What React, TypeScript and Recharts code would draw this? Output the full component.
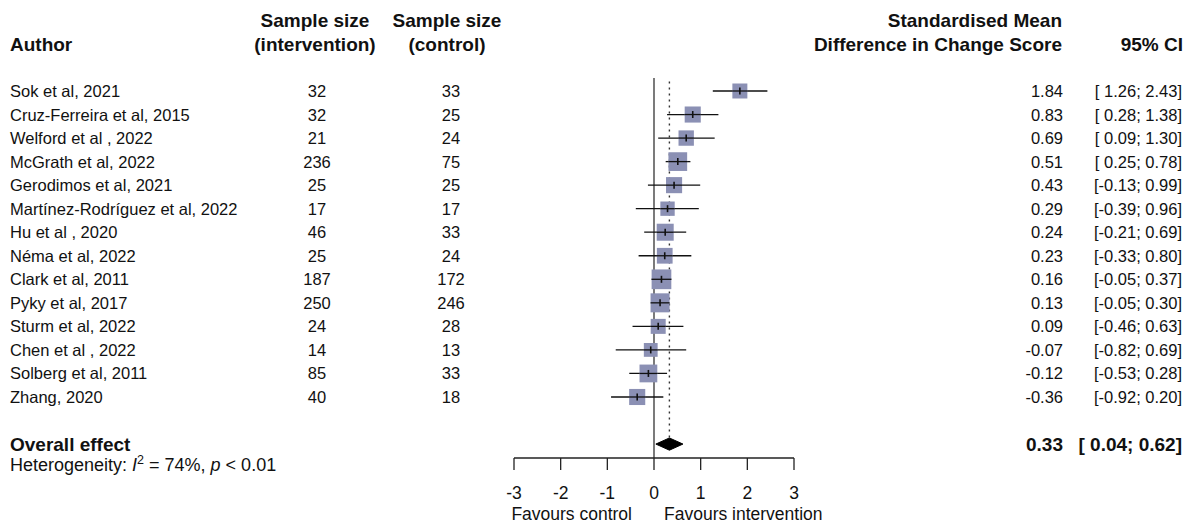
import React from 'react';
import { ComposedChart, XAxis, YAxis, Scatter, ErrorBar, ReferenceLine, Area } from 'recharts';

const authors = [
  'Sok et al, 2021',
  'Cruz-Ferreira et al, 2015',
  'Welford et al , 2022',
  'McGrath et al, 2022',
  'Gerodimos et al, 2021',
  'Martínez-Rodríguez et al, 2022',
  'Hu et al , 2020',
  'Néma et al, 2022',
  'Clark et al, 2011',
  'Pyky et al, 2017',
  'Sturm et al, 2022',
  'Chen et al , 2022',
  'Solberg et al, 2011',
  'Zhang, 2020',
];
const nIntervention = [32, 32, 21, 236, 25, 17, 46, 25, 187, 250, 24, 14, 85, 40];
const nControl = [33, 25, 24, 75, 25, 17, 33, 24, 172, 246, 28, 13, 33, 18];
const smd = [1.84, 0.83, 0.69, 0.51, 0.43, 0.29, 0.24, 0.23, 0.16, 0.13, 0.09, -0.07, -0.12, -0.36];
const ciLow = [1.26, 0.28, 0.09, 0.25, -0.13, -0.39, -0.21, -0.33, -0.05, -0.05, -0.46, -0.82, -0.53, -0.92];
const ciHigh = [2.43, 1.38, 1.3, 0.78, 0.99, 0.96, 0.69, 0.8, 0.37, 0.3, 0.63, 0.69, 0.28, 0.2];
const weights = [5.9, 6.8, 6.2, 9.2, 6.8, 5.4, 7.6, 6.5, 10.2, 9.5, 5.9, 5.0, 8.3, 6.8];
const overallEst = 0.33;
const overallLow = 0.04;
const overallHigh = 0.62;
const xTicks = [-3, -2, -1, 0, 1, 2, 3];

const FONT = '"Liberation Sans", Arial, Helvetica, sans-serif';
const TXT = '#111';
const OVERALL_ROW = authors.length + 2;
const BODY_FS = 16.5;

const fmt = (v: number) => (v < 0 ? v.toFixed(2) : ' ' + v.toFixed(2));
const ciText = (lo: number, hi: number) => `[${fmt(lo)}; ${fmt(hi)}]`;
const squareSize = (w: number) => 6.17 * Math.sqrt(w);

const studyRows = authors.map((a, i) => ({
  x: smd[i],
  y: i + 1,
  err: [smd[i] - ciLow[i], ciHigh[i] - smd[i]],
  w: weights[i],
}));

const textRows = [
  ...authors.map((a, i) => ({
    x: 0,
    y: i + 1,
    author: a,
    nI: String(nIntervention[i]),
    nC: String(nControl[i]),
    est: smd[i].toFixed(2),
    ci: ciText(ciLow[i], ciHigh[i]),
    overall: false,
  })),
  {
    x: 0,
    y: OVERALL_ROW,
    author: 'Overall effect',
    nI: '',
    nC: '',
    est: overallEst.toFixed(2),
    ci: ciText(overallLow, overallHigh),
    overall: true,
  },
];

const DIAMOND_H = 0.26;
const diamond = [
  { x: overallLow, band: [OVERALL_ROW, OVERALL_ROW] },
  { x: overallEst, band: [OVERALL_ROW - DIAMOND_H, OVERALL_ROW + DIAMOND_H] },
  { x: overallHigh, band: [OVERALL_ROW, OVERALL_ROW] },
];

const SquareShape = (props: any) => {
  const { cx, cy, payload } = props;
  const s = squareSize(payload.w);
  return <rect x={cx - s / 2} y={cy - s / 2} width={s} height={s} fill="#8b90b4" />;
};

const TickShape = (props: any) => {
  const { cx, cy, payload } = props;
  const s = squareSize(payload.w);
  return (
    <g>
      <line x1={cx - s / 2} x2={cx + s / 2} y1={cy} y2={cy} stroke="#111" strokeWidth={1.3} />
      <line x1={cx} x2={cx} y1={cy - 3.5} y2={cy + 3.5} stroke="#111" strokeWidth={1.6} />
    </g>
  );
};

const RowText = (props: any) => {
  const { cy, payload } = props;
  if (payload.overall) {
    const b = cy + 7;
    return (
      <g fontFamily={FONT} fill={TXT} style={{ whiteSpace: 'pre' }}>
        <text x={10} y={b} fontSize={19} fontWeight="bold">{payload.author}</text>
        <text x={10} y={cy + 27} fontSize={18}>
          {'Heterogeneity: '}
          <tspan fontStyle="italic">I</tspan>
          <tspan dy={-7} fontSize={12.5}>2</tspan>
          <tspan dy={7}>{' = 74%, '}</tspan>
          <tspan fontStyle="italic">p</tspan>
          {' < 0.01'}
        </text>
        <text x={1063} y={b} fontSize={19} fontWeight="bold" textAnchor="end">{payload.est}</text>
        <text x={1182} y={b} fontSize={19} fontWeight="bold" textAnchor="end">{payload.ci}</text>
      </g>
    );
  }
  const b = cy + 6;
  return (
    <g fontFamily={FONT} fill={TXT} fontSize={BODY_FS} style={{ whiteSpace: 'pre' }}>
      <text x={10} y={b}>{payload.author}</text>
      <text x={317} y={b} textAnchor="middle">{payload.nI}</text>
      <text x={451} y={b} textAnchor="middle">{payload.nC}</text>
      <text x={1063} y={b} textAnchor="end">{payload.est}</text>
      <text x={1182} y={b} textAnchor="end">{payload.ci}</text>
    </g>
  );
};

const FavoursLabel = (props: any) => {
  const vb = props.viewBox || {};
  const zero = vb.x + vb.width / 2;
  const y = vb.y + 62;
  return (
    <g fontFamily={FONT} fill={TXT} fontSize={17.5}>
      <text x={zero - 22} y={y} textAnchor="end">Favours control</text>
      <text x={zero + 10} y={y} textAnchor="start">Favours intervention</text>
    </g>
  );
};

const Headers = () => (
  <svg
    width={1189}
    height={70}
    style={{ position: 'absolute', left: 0, top: 0, pointerEvents: 'none' }}
  >
    <g fontFamily={FONT} fill={TXT} fontSize={19} fontWeight="bold">
      <text x={10} y={51}>Author</text>
      <text x={315} y={27} textAnchor="middle">Sample size</text>
      <text x={315} y={51} textAnchor="middle">(intervention)</text>
      <text x={447} y={27} textAnchor="middle">Sample size</text>
      <text x={447} y={51} textAnchor="middle">(control)</text>
      <text x={1062} y={27} textAnchor="end">Standardised Mean</text>
      <text x={1062} y={51} textAnchor="end">Difference in Change Score</text>
      <text x={1183} y={51} textAnchor="end">95% CI</text>
    </g>
  </svg>
);

export default function App() {
  return (
    <div style={{ position: 'absolute', left: 0, top: 0, width: 1189, height: 530, background: '#fff' }}>
      <ComposedChart
        width={1189}
        height={530}
        margin={{ top: 78, right: 395, left: 514, bottom: 12 }}
      >
        <XAxis
          dataKey="x"
          type="number"
          domain={[-3, 3]}
          ticks={xTicks}
          tickSize={12}
          tickMargin={17}
          height={60}
          axisLine={{ stroke: '#222', strokeWidth: 1.3 }}
          tickLine={{ stroke: '#222', strokeWidth: 1.3 }}
          tick={{ fontSize: 17.5, fill: TXT, fontFamily: FONT }}
          label={<FavoursLabel />}
        />
        <YAxis dataKey="y" type="number" domain={[0.448, 16.592]} reversed hide width={0} />
        <ReferenceLine x={0} stroke="#333" strokeWidth={1.3} />
        <ReferenceLine
          segment={[
            { x: overallEst, y: 0.6 },
            { x: overallEst, y: OVERALL_ROW - DIAMOND_H },
          ]}
          stroke="#333"
          strokeWidth={1.4}
          strokeDasharray="2 4"
        />
        <Scatter data={studyRows} shape={SquareShape} isAnimationActive={false} />
        <Scatter data={studyRows} shape={TickShape} isAnimationActive={false}>
          <ErrorBar dataKey="err" direction="x" width={0} stroke="#111" strokeWidth={1.3} isAnimationActive={false} />
        </Scatter>
        <Area
          data={diamond}
          dataKey="band"
          type="linear"
          fill="#000"
          fillOpacity={1}
          stroke="#000"
          strokeWidth={1}
          dot={false}
          activeDot={false}
          isAnimationActive={false}
        />
        <Scatter data={textRows} shape={RowText} isAnimationActive={false} />
      </ComposedChart>
      <Headers />
    </div>
  );
}
